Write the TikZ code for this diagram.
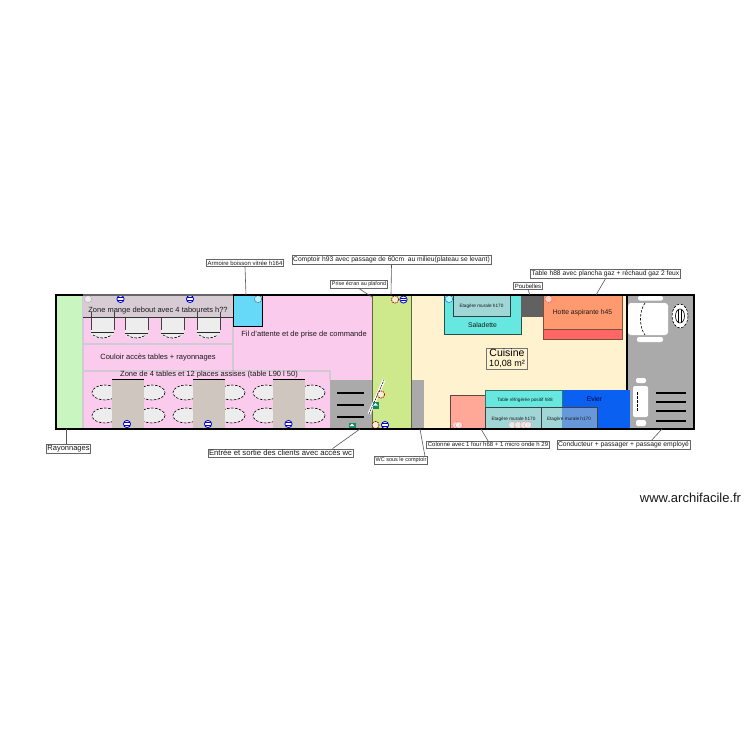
\documentclass[tikz,border=0pt]{standalone}
\usepackage{fontspec}
\setmainfont{Liberation Sans}
\definecolor{cpink}{HTML}{FACBEC}
\definecolor{cgreen}{HTML}{C8F5C0}
\definecolor{ccomp}{HTML}{CDE98B}
\definecolor{ccream}{HTML}{FFF3CF}
\definecolor{cgrey}{HTML}{AAAAAA}
\definecolor{cwall}{HTML}{D2CAD2}
\definecolor{czone}{HTML}{D8CCD4}
\definecolor{ctable}{HTML}{CFC6C0}
\definecolor{ccyan}{HTML}{66D8F8}
\definecolor{csal}{HTML}{66E8E0}
\definecolor{ceta}{HTML}{A0D6D6}
\definecolor{chotte}{HTML}{FF9A70}
\definecolor{cred}{HTML}{FF6666}
\definecolor{cevier}{HTML}{0A60F0}
\definecolor{cblend}{HTML}{6898DC}
\definecolor{ccol}{HTML}{FFA898}
\definecolor{cexit}{HTML}{128A68}
\tikzset{
 lab/.style={draw=black!60,fill=white,line width=.6pt,inner sep=1.2pt,text=black!90},
 plain/.style={inner sep=0pt,text=black!90},
 leader/.style={draw=black!65,line width=.6pt},
 roomwall/.style={draw=cwall,line width=2pt},
 blk/.style={draw=black,line width=.6pt},
 seatdash/.style={draw=black,line width=.6pt,dash pattern=on 2.5pt off 1.5pt},
 stair/.style={draw=black,line width=1.8pt},
 outer/.style={draw=black,line width=2.2pt}
}
\newcommand{\fs}[1]{\fontsize{#1}{#1}\selectfont}
\newcommand{\bluesym}[2]{\fill[white] (#1,#2) circle (3.6);\draw[blue!80!black,line width=.8pt] (#1,#2) circle (3.6);\draw[blue!80!black,line width=.9pt] (#1-2.8,#2-1.3) -- (#1+2.8,#2-1.3) (#1-2.8,#2+1.3) -- (#1+2.8,#2+1.3);}
\newcommand{\redsym}[3][red!70!black]{\fill[white,opacity=.6] (#2,#3) circle (3.6);\draw[#1,line width=.7pt,dash pattern=on 1.5pt off .8pt] (#2,#3) circle (3.6);}
\newcommand{\seatstool}[2]{%
 \fill[black!7,rounded corners=6pt] (#1,317) rectangle (#1+23,338);
 \fill[black!7] (#1,317) rectangle (#1+23,325);
 \draw[black!75,line width=.6pt] (#1,312) -- (#1,330) (#1+23,312) -- (#1+23,330);
 \draw[black!85,line width=.6pt] (#1,#2) -- (#1+23,#2);
 \draw[seatdash] (#1+2,335) .. controls (#1+8,339) and (#1+15,339) .. (#1+21,335);}
\newcommand{\ov}[2]{\draw[seatdash,fill=black!7] (#1,#2) ellipse (13 and 7.5);}
\begin{document}
\begin{tikzpicture}[x=1pt,y=-1pt]
\useasboundingbox (0,0) rectangle (750,750);
\fill[white] (0,0) rectangle (750,750);
% rooms
\fill[cgreen] (56,295) rectangle (83,429);
\fill[cpink] (83,295) rectangle (372,429);
\fill[ccream] (411,295) rectangle (627,429);
\fill[cgrey] (627,295) rectangle (694,429);
\fill[cgrey] (330,380) rectangle (424,429);
\fill[ccomp] (372,295) rectangle (411,429);
\draw[draw=black!55!ccomp,line width=.7pt] (372,295) -- (372,429) (411,295) -- (411,429);
% stools
\seatstool{91}{332}
\seatstool{125}{333}
\seatstool{161}{333}
\seatstool{197}{332}
% chairs
\foreach \c in {105,152,186,232,266,312}{\ov{\c}{392.5}\ov{\c}{415.5}}
% tables
\fill[ctable] (112,379) rectangle (144,429);
\fill[ctable] (193,379) rectangle (225,429);
\fill[ctable] (273,379) rectangle (305,429);
\draw[black,line width=.7pt] (112,379) -- (144,379) (193,379) -- (225,379) (273,379) -- (305,379);
% walls
\draw[roomwall] (83,295) -- (83,429);
\draw[roomwall] (83,344) -- (233,344);
\draw[roomwall] (83,370.5) -- (330,370.5) -- (330,380);
\draw[roomwall] (232.5,295) -- (232.5,370);
% zone debout
\fill[czone] (83,295) rectangle (233,317);
\draw[black!80,line width=.7pt] (83,317) -- (233,317);
\draw[black!75,line width=.6pt] (91,312) -- (91,317) (114,312) -- (114,317) (197,312) -- (197,317) (220,312) -- (220,317);
\node[plain] (zoneDebout) at (158,310.5) {\fs{7.5}Zone mange debout avec 4 tabourets h??};
\draw[black,line width=.7pt,fill=ccyan] (233,295) rectangle (262,326);
\node[plain] (couloir) at (158,357.5) {\fs{7.5}Couloir accès tables + rayonnages};
\node[plain] (zoneTables) at (209,375) {\fs{7.5}Zone de 4 tables et 12 places assises (table L90 l 50)};
\node[plain] (fil) at (304,334.5) {\fs{7.5}Fil d'attente et de prise de commande};
% stairs
\draw[stair] (337,393) -- (364,393) (337,405) -- (364,405) (337,417) -- (364,417);
% kitchen furniture
\draw[black!65!csal,line width=.7pt,fill=csal] (444,295) rectangle (521,334);
\draw[black!70!ceta,line width=.7pt,fill=ceta] (453,295) rectangle (510,316.5);
\fill[black!62] (521,295) rectangle (543,317);
\fill[cred] (543,329.5) rectangle (622,339.5);
\fill[chotte] (543,295) rectangle (622,329.5);
\draw[black!50!chotte,line width=.7pt] (543,295) rectangle (622,339.5) (543,329.5) -- (622,329.5);
\node[plain] (etagere0) at (481.5,306) {\fs{4.7}Etagère murale h170};
\node[plain] (saladette) at (482.5,325) {\fs{6.8}Saladette};
\node[plain] (hotte) at (582.5,312.5) {\fs{6.8}Hotte aspirante h45};
\node[draw=black!55,line width=.6pt,fill=ccream,minimum width=41pt,minimum height=21pt,inner sep=0pt,align=center] (cuisine) at (507,358.5) {\fs{10.5}Cuisine\\[-1.5pt]\fs{9}10,08 m²};
\draw[black!60!ccol,line width=.7pt,fill=ccol] (450,395) rectangle (485,429);
\fill[cevier] (562,390) rectangle (630,429);
\draw[black!50!csal,line width=.7pt,fill=csal] (485,390) rectangle (562,407);
\fill[ceta] (485,407) rectangle (562,429);
\fill[cblend] (562,407) rectangle (597,429);
\draw[black!75,line width=.7pt] (485,407) rectangle (597,429) (541,407) -- (541,429);
\node[plain] (refrig) at (525,400) {\fs{4.7}Table réfrigérée positif h88};
\node[plain,text=black!75!blue] (evier) at (594.5,399.5) {\fs{6.8}Evier};
\node[plain] (etagere1) at (513.5,419) {\fs{4.7}Etagère murale h170};
\node[plain] (etagere2) at (569,419) {\fs{4.7}Etagère murale h170};
% driver area
\fill[white,rounded corners=2pt] (638,296) rectangle (663,300.5);
\fill[white,rounded corners=3pt] (628,303) rectangle (668,335);
\fill[white,rounded corners=2pt] (637,337) rectangle (663,342);
\draw[seatdash] (645,303) .. controls (639,311) and (639,327) .. (645,335);
\draw[seatdash,fill=white] (680,316) ellipse (8 and 12);
\draw[blk] (680,316) ellipse (4.5 and 7) (678.5,310) -- (678.5,322) (681.5,310) -- (681.5,322);
\fill[white,rounded corners=2pt] (636,378) rectangle (646,383);
\fill[white,rounded corners=2pt] (633,386) rectangle (648,417);
\fill[white,rounded corners=2pt] (636,420) rectangle (646,426);
\draw[seatdash] (637,392) -- (637,412);
\draw[stair] (656,393) -- (686,393) (656,402) -- (686,402) (656,411) -- (686,411) (656,421) -- (686,421);
% door
\draw[white,line width=3pt] (369,414) -- (384,380);
\draw[black,line width=.5pt,dash pattern=on 2pt off 1pt] (369,414) -- (384,380);
% symbols
\bluesym{120.5}{299}\bluesym{190}{299}
\bluesym{127}{424}\bluesym{208}{424}\bluesym{288.5}{424}
\bluesym{403.5}{299.5}\bluesym{385}{425}
\redsym{395}{299.5}\redsym{381}{394.5}\redsym{375.5}{425}
\redsym[black!30]{88}{299}
\redsym[black!50!cyan]{258}{299}\redsym[blue!50!cyan]{449}{299}
\redsym[red!60]{548.5}{299}
\foreach \c in {456,459}{\redsym[red!50]{\c}{425}}
\foreach \c in {512,518,524,528}{\redsym[red!40]{\c}{425}}
\fill[cexit] (348.5,422.5) rectangle (355.5,429);
\fill[white] (352,423.5) -- (354.5,426) -- (349.5,426) -- cycle;
\fill[cexit] (372.5,402) rectangle (379,408.5);
\fill[white] (375.5,403) -- (378,405.5) -- (373,405.5) -- cycle;
% outer walls
\draw[outer] (83,295) -- (56,295) -- (56,429) -- (83,429);
\draw[black!60,line width=2.2pt] (83,295) -- (233,295);
\draw[outer] (233,295) -- (694,295) -- (694,429) -- (83,429);
\draw[black,line width=2pt] (627,295) -- (627,390);
% anchors on the walls
\coordinate (aRay) at (66,429);
\coordinate (aArm) at (246,295);
\coordinate (aCpt) at (391,295);
\coordinate (aPri) at (372,297);
\coordinate (aPou) at (530,295);
\coordinate (aTab) at (596,295);
\coordinate (aCol) at (481,429);
\coordinate (aCon) at (662,429);
\coordinate (aWC) at (420,429);
\coordinate (aEnt) at (360,429);
% labels
\node[lab] (lRay) at (68.5,448.5) {\fs{7.5}Rayonnages};
\node[lab] (lArm) at (245,263) {\fs{6}Armoire boisson vitrée h164};
\node[lab] (lCpt) at (391.5,260) {\fs{6.7}Comptoir h93 avec passage de 60cm\ \ au milieu(plateau se levant)};
\node[lab] (lPri) at (359,284.5) {\fs{5.4}Prise écran au plafond};
\node[lab] (lPou) at (528,286) {\fs{6}Poubelles};
\node[lab] (lTab) at (605.5,274) {\fs{6.7}Table h88 avec plancha gaz + réchaud gaz 2 feux};
\node[lab] (lCol) at (488,444.5) {\fs{6}Colonne avec 1 four h68 + 1 micro onde h 29};
\node[lab] (lCon) at (623.5,445) {\fs{6.75}Conducteur + passager + passage employé};
\node[lab] (lWC) at (401,460.5) {\fs{5.5}WC sous le comptoir};
\node[lab] (lEnt) at (280.5,453) {\fs{7.7}Entrée et sortie des clients avec accès wc};
\draw[leader] (lRay.north -| aRay) -- (aRay);
\draw[leader] (lArm.south) -- (aArm);
\draw[leader] (lCpt.south) -- (aCpt);
\draw[leader] (lPri.south) -- (aPri);
\draw[leader] (lPou.south) -- (aPou);
\draw[leader] (lTab.south) -- (aTab);
\draw[leader] (lCol.north) -- (aCol);
\draw[leader] (lCon.north) ++(28,0) -- (aCon);
\draw[leader] (lWC.north) ++(24,0) -- (aWC);
\draw[leader] (lEnt.north) ++(52,0) -- (aEnt);
\node[plain] (site) at (690.5,498) {\fs{13}www.archifacile.fr};
\end{tikzpicture}
\end{document}
